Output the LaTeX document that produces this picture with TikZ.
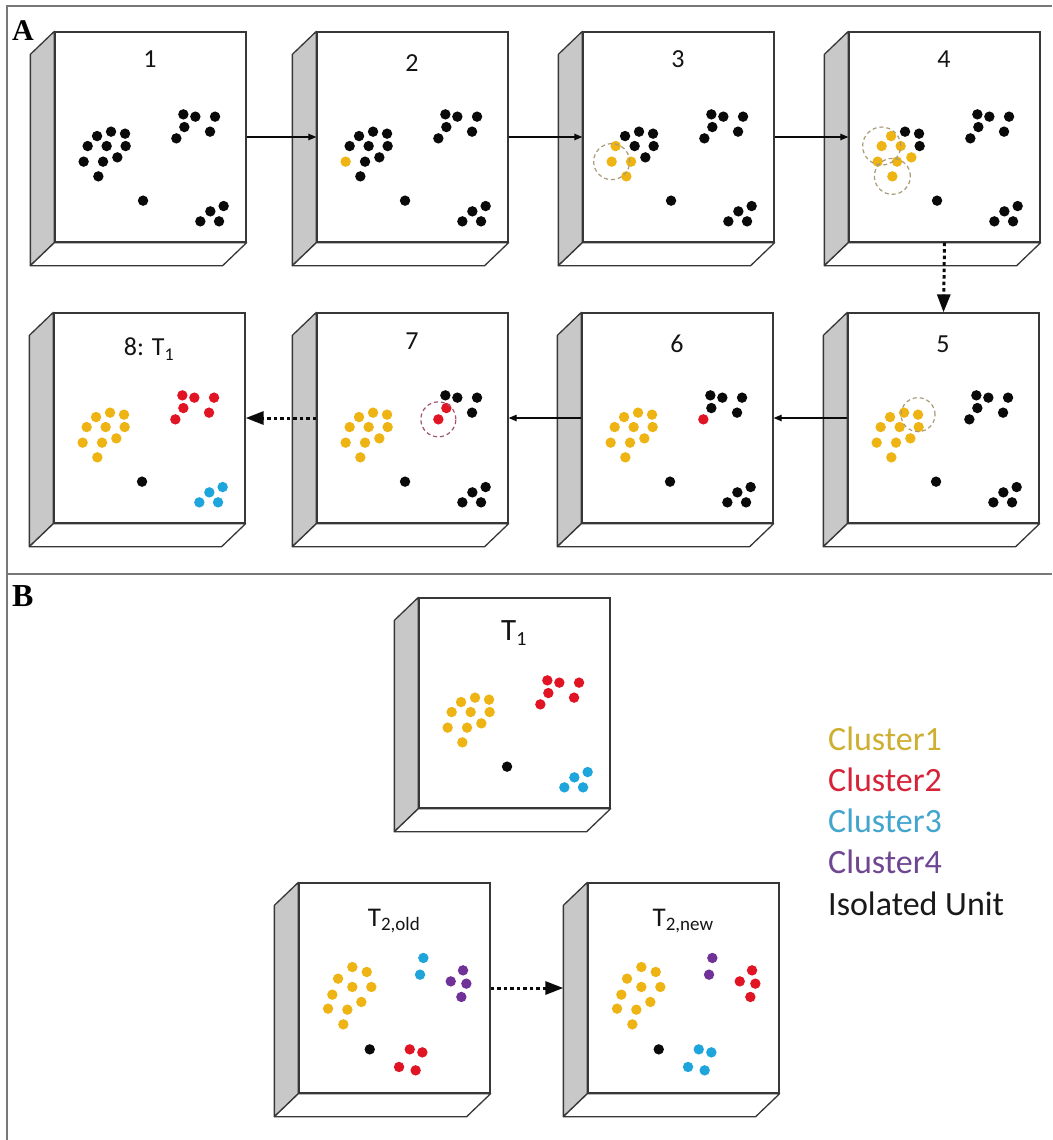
\documentclass[tikz,border=0pt]{standalone}
\usepackage{fontspec}
\setmainfont{Carlito}
\newfontfamily\tnr{Liberation Serif}
\usetikzlibrary{arrows.meta,calc}

\definecolor{edge}{RGB}{55,55,55}
\definecolor{sidegray}{RGB}{200,200,200}
\definecolor{yl}{RGB}{238,180,20}
\definecolor{rd}{RGB}{225,20,35}
\definecolor{bl}{RGB}{30,165,220}
\definecolor{pu}{RGB}{112,50,150}
\definecolor{dk}{RGB}{10,10,10}
\definecolor{circy}{RGB}{170,155,120}
\definecolor{circr}{RGB}{160,85,115}
\definecolor{framec}{RGB}{120,120,120}
\definecolor{lga}{RGB}{205,175,50}
\definecolor{lgb}{RGB}{215,35,55}
\definecolor{lgc}{RGB}{65,165,205}
\definecolor{lgd}{RGB}{110,70,145}

\tikzset{
  front/.style={rectangle, draw=edge, fill=white, line width=1.3pt,
    minimum width=191pt, minimum height=210pt, inner sep=0pt},
  face/.style={draw=edge, line width=1.3pt, line join=round},
  arr/.style={draw=dk, line width=1.2pt, -{Triangle[length=8pt,width=6.5pt]}},
  darr/.style={draw=dk, line width=3pt, dash pattern=on 3.5pt off 3pt,
    -{Triangle[length=18pt,width=13pt]}},
  ring/.style={line width=1.2pt, dash pattern=on 4pt off 3pt},
  lbl/.style={font=\fontsize{26}{30}\selectfont, text=black!92, inner sep=0pt},
  legend/.style={anchor=base west, inner sep=0pt, font=\fontsize{34}{40}\selectfont},
  frame/.style={draw=framec, line width=1.6pt},
}

\newcommand\mkcube[3]{%
  \node[front] (#1) at (#2+95.5,#3+105) {};
  \draw[face, fill=sidegray] (#1.north west) -- ++(-24,23)
     -- ([shift={(-24,23)}]#1.south west) -- (#1.south west) -- cycle;
  \draw[face, fill=white] (#1.south west) -- ([shift={(-24,23)}]#1.south west)
     -- ([shift={(-24,23)}]#1.south east) -- (#1.south east) -- cycle;
  \foreach \n/\px/\py in {a/42.7/104.7, b/56.7/100.3, c/70.7/102.3,
      d/33.3/114.7, e/52.3/114.7, f/71.3/114.7, g/29.3/130.3, h/48.7/130.3,
      i/63/126, j/44/145, p/129/83, q/141/85.3, r/160.7/85.3, s/130/95.7,
      t/155.7/100.3, u/122/107, w1/169.3/174.7, w2/156/180, w3/146/190,
      w4/164.7/190, iso/88.7/169.3}{%
    \coordinate (#1-\n) at ([shift={(\px,\py)}]#1.north west);}%
}
\newcommand\spots[2]{\foreach \n/\c in {#2}{\fill[\c] (#1-\n) circle[radius=5.2pt];}}

\begin{document}
\begin{tikzpicture}[x=1pt,y=-1pt]
\useasboundingbox (0,0) rectangle (1052,1140);
\fill[white] (0,0) rectangle (1052,1140);

% frames
\draw[frame] (1052,6) -- (7,6) -- (7,1140);
\draw[frame] (7,574) -- (1052,574);

\node[anchor=base west, inner sep=0pt, font=\tnr\bfseries\fontsize{30}{34}\selectfont] (lA) at (12,41) {A};
\node[anchor=base west, inner sep=0pt, font=\tnr\bfseries\fontsize{32}{36}\selectfont] (lB) at (12,606) {B};

% ---------- row 1
\mkcube{b1}{55}{32}
\mkcube{b2}{317}{32}
\mkcube{b3}{583}{32}
\mkcube{b4}{849}{32}
% ---------- row 2
\mkcube{b8}{54}{313}
\mkcube{b7}{317}{313}
\mkcube{b6}{582}{313}
\mkcube{b5}{848}{313}
% ---------- panel B
\mkcube{t1}{419}{598}
\mkcube{t2o}{299}{883}
\mkcube{t2n}{588}{883}

% labels
\node[lbl, anchor=base] (n1) at ([shift={(95.5,36)}]b1.north west) {1};
\node[lbl, anchor=base] (n2) at ([shift={(95.5,40)}]b2.north west) {2};
\node[lbl, anchor=base] (n3) at ([shift={(95.5,36)}]b3.north west) {3};
\node[lbl, anchor=base] (n4) at ([shift={(95.5,36)}]b4.north west) {4};
\node[lbl, anchor=base] (n5) at ([shift={(95.5,40)}]b5.north west) {5};
\node[lbl, anchor=base] (n6) at ([shift={(95.5,40)}]b6.north west) {6};
\node[lbl, anchor=base] (n7) at ([shift={(95.5,37)}]b7.north west) {7};
\node[lbl, anchor=base] (n8) at ([shift={(95.5,43)}]b8.north west)
  {8: T\raisebox{-5pt}{\fontsize{18}{20}\selectfont 1}};
\node[lbl, anchor=base, font=\fontsize{31}{34}\selectfont] (nt1) at ([shift={(95.5,43)}]t1.north west)
  {T\raisebox{-5pt}{\fontsize{20}{22}\selectfont 1}};
\node[lbl, anchor=base, font=\fontsize{27}{30}\selectfont] (nt2o) at ([shift={(95.5,44)}]t2o.north west)
  {T\raisebox{-4pt}{\fontsize{19}{22}\selectfont 2,old}};
\node[lbl, anchor=base, font=\fontsize{27}{30}\selectfont] (nt2n) at ([shift={(95.5,44)}]t2n.north west)
  {T\raisebox{-4pt}{\fontsize{19}{22}\selectfont 2,new}};

% dots
\spots{b1}{a/dk,b/dk,c/dk,d/dk,e/dk,f/dk,g/dk,h/dk,i/dk,j/dk,p/dk,q/dk,r/dk,s/dk,t/dk,u/dk,w1/dk,w2/dk,w3/dk,w4/dk,iso/dk}
\spots{b2}{a/dk,b/dk,c/dk,d/dk,e/dk,f/dk,g/yl,h/dk,i/dk,j/dk,p/dk,q/dk,r/dk,s/dk,t/dk,u/dk,w1/dk,w2/dk,w3/dk,w4/dk,iso/dk}
\spots{b3}{a/dk,b/dk,c/dk,d/yl,e/dk,f/dk,g/yl,h/yl,i/dk,j/yl,p/dk,q/dk,r/dk,s/dk,t/dk,u/dk,w1/dk,w2/dk,w3/dk,w4/dk,iso/dk}
\spots{b4}{a/yl,b/dk,c/dk,d/yl,e/yl,f/dk,g/yl,h/yl,i/yl,j/yl,p/dk,q/dk,r/dk,s/dk,t/dk,u/dk,w1/dk,w2/dk,w3/dk,w4/dk,iso/dk}
\spots{b5}{a/yl,b/yl,c/yl,d/yl,e/yl,f/yl,g/yl,h/yl,i/yl,j/yl,p/dk,q/dk,r/dk,s/dk,t/dk,u/dk,w1/dk,w2/dk,w3/dk,w4/dk,iso/dk}
\spots{b6}{a/yl,b/yl,c/yl,d/yl,e/yl,f/yl,g/yl,h/yl,i/yl,j/yl,p/dk,q/dk,r/dk,s/dk,t/dk,u/rd,w1/dk,w2/dk,w3/dk,w4/dk,iso/dk}
\spots{b7}{a/yl,b/yl,c/yl,d/yl,e/yl,f/yl,g/yl,h/yl,i/yl,j/yl,p/dk,q/dk,r/dk,s/rd,t/dk,u/rd,w1/dk,w2/dk,w3/dk,w4/dk,iso/dk}
\spots{b8}{a/yl,b/yl,c/yl,d/yl,e/yl,f/yl,g/yl,h/yl,i/yl,j/yl,p/rd,q/rd,r/rd,s/rd,t/rd,u/rd,w1/bl,w2/bl,w3/bl,w4/bl,iso/dk}
\spots{t1}{a/yl,b/yl,c/yl,d/yl,e/yl,f/yl,g/yl,h/yl,i/yl,j/yl,p/rd,q/rd,r/rd,s/rd,t/rd,u/rd,w1/bl,w2/bl,w3/bl,w4/bl,iso/dk}

\begin{scope}[shift={(t2o.north west)}]
  \foreach \px/\py/\c in {54/84.7/yl, 68.4/89.6/yl, 39.7/96.3/yl, 54/104.6/yl,
     73/104.6/yl, 34/112.3/yl, 63/119.6/yl, 29.7/126.3/yl, 49/127.3/yl, 45/142/yl,
     125/75.6/bl, 121.7/92.3/bl,
     164.7/88/pu, 152.4/99/pu, 168/101.3/pu, 163/114.6/pu,
     71.4/167/dk,
     111.4/167/rd, 124/170/rd, 100.7/184.6/rd, 117.3/188/rd}
    {\fill[\c] (\px,\py) circle[radius=5.2pt];}
\end{scope}
\begin{scope}[shift={(t2n.north west)}]
  \foreach \px/\py/\c in {54/84.7/yl, 68.4/89.6/yl, 39.7/96.3/yl, 54/104.6/yl,
     73/104.6/yl, 34/112.3/yl, 63/119.6/yl, 29.7/126.3/yl, 49/127.3/yl, 45/142/yl,
     125/75.6/pu, 121.7/92.3/pu,
     164.7/88/rd, 152.4/99/rd, 168/101.3/rd, 163/114.6/rd,
     71.4/167/dk,
     111.4/167/bl, 124/170/bl, 100.7/184.6/bl, 117.3/188/bl}
    {\fill[\c] (\px,\py) circle[radius=5.2pt];}
\end{scope}

% dashed search rings
\draw[ring, draw=circy] (b3-g) circle[radius=18pt];
\draw[ring, draw=circy] (b4-d) circle[radius=19pt];
\draw[ring, draw=circy] (b4-j) circle[radius=18pt];
\draw[ring, draw=circy] (b5-c) circle[radius=17pt];
\draw[ring, draw=circr] (b7-u) circle[radius=17.5pt];

% connectors
\draw[arr] (b1.east) -- (b2.west);
\draw[arr] (b2.east) -- (b3.west);
\draw[arr] (b3.east) -- (b4.west);
\draw[darr] (b4.south) -- (b5.north);
\draw[arr] (b5.west) -- (b6.east);
\draw[arr] (b6.west) -- (b7.east);
\draw[darr] (b7.west) -- (b8.east);
\coordinate (t2nside) at ([xshift=-24pt]t2n.west);
\draw[darr] (t2o.east) -- (t2nside);

% legend
\node[legend, text=lga] (lg1) at (828,750) {Cluster1};
\node[legend, text=lgb] (lg2) at (828,791) {Cluster2};
\node[legend, text=lgc] (lg3) at (828,832) {Cluster3};
\node[legend, text=lgd] (lg4) at (828,873) {Cluster4};
\node[legend, text=black!90] (lg5) at (828,915) {Isolated Unit};
\end{tikzpicture}
\end{document}
